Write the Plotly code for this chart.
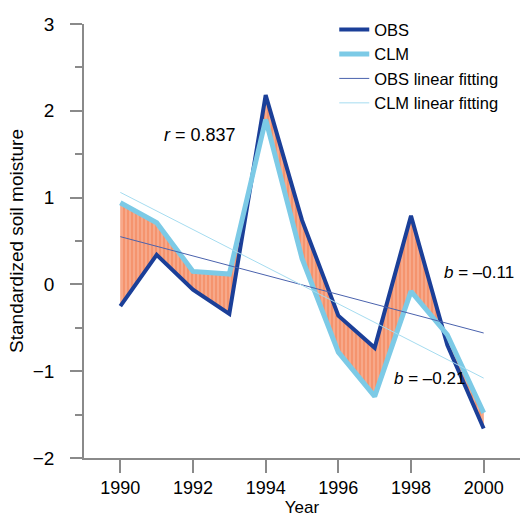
import plotly.graph_objects as go

years = [1990, 1991, 1992, 1993, 1994, 1995, 1996, 1997, 1998, 1999, 2000]
obs = [-0.25, 0.34, -0.06, -0.34, 2.18, 0.74, -0.36, -0.73, 0.79, -0.70, -1.66]
clm = [0.94, 0.71, 0.15, 0.12, 1.90, 0.30, -0.78, -1.29, -0.08, -0.58, -1.48]

fit_years = [1990, 2000]
obs_fit = [0.55, -0.56]
clm_fit = [1.06, -1.08]

x_ticks = [1990, 1992, 1994, 1996, 1998, 2000]
y_ticks = [-2, -1, 0, 1, 2, 3]

OBS_C = "#1b3f98"
CLM_C = "#7ccae6"
OBS_FIT_C = "#4a62ad"
CLM_FIT_C = "#a5dcf0"
FONT = "Liberation Sans, Arial, sans-serif"
AX_C = "#8a8a8a"

fig = go.Figure()

# fill between the two series
fig.add_trace(go.Scatter(x=years, y=clm, mode="lines", line=dict(width=0, color=CLM_C),
                         showlegend=False, hoverinfo="skip"))
fig.add_trace(go.Scatter(x=years, y=obs, mode="lines", line=dict(width=0, color=OBS_C),
                         fill="tonexty", fillcolor="#f5946e",
                         fillpattern=dict(shape="|", bgcolor="#f5946e", fgcolor="#fbd9cc",
                                          size=4, solidity=0.3),
                         showlegend=False, hoverinfo="skip"))

fig.add_trace(go.Scatter(x=years, y=obs, mode="lines", name="OBS",
                         line=dict(color=OBS_C, width=4)))
fig.add_trace(go.Scatter(x=years, y=clm, mode="lines", name="CLM",
                         line=dict(color=CLM_C, width=5)))
fig.add_trace(go.Scatter(x=fit_years, y=obs_fit, mode="lines", name="OBS linear fitting",
                         line=dict(color=OBS_FIT_C, width=1)))
fig.add_trace(go.Scatter(x=fit_years, y=clm_fit, mode="lines", name="CLM linear fitting",
                         line=dict(color=CLM_FIT_C, width=1)))

fig.update_layout(
    width=520, height=518,
    margin=dict(l=84, r=0, t=24, b=60),
    plot_bgcolor="white", paper_bgcolor="white",
    font=dict(family=FONT, size=17, color="black"),
    showlegend=True,
    legend=dict(x=0.574, y=1.027, xanchor="left", yanchor="top", traceorder="normal",
                bgcolor="rgba(0,0,0,0)", font=dict(size=16.5, family=FONT),
                tracegroupgap=0),
    xaxis=dict(range=[1989, 2001], tickvals=x_ticks, showgrid=False, zeroline=False,
               showline=True, linecolor=AX_C, linewidth=1.5,
               ticks="outside", ticklen=13, tickwidth=1.5, tickcolor=AX_C,
               ticklabelstandoff=0,
               tickfont=dict(size=18),
               title=dict(text="Year", font=dict(size=17), standoff=4)),
    yaxis=dict(range=[-2, 3], tickvals=y_ticks, showgrid=False, zeroline=False,
               showline=True, linecolor=AX_C, linewidth=1.5,
               ticks="outside", ticklen=12, tickwidth=1.5, tickcolor=AX_C,
               ticklabelstandoff=12,
               minor=dict(dtick=0.5, ticks="outside", ticklen=7, tickcolor=AX_C, tickwidth=1.5),
               tickfont=dict(size=19),
               title=dict(text="Standardized soil moisture", font=dict(size=19), standoff=4)),
)

fig.add_annotation(x=1992.18, y=1.72, text="<i>r</i> = 0.837", showarrow=False,
                   font=dict(size=18, family=FONT))
fig.add_annotation(x=1999.87, y=0.14, text="<i>b</i> = \u20130.11", showarrow=False,
                   font=dict(size=17, family=FONT))
fig.add_annotation(x=1998.52, y=-1.08, text="<i>b</i> = \u20130.21", showarrow=False,
                   font=dict(size=17, family=FONT))

fig.write_html("out.html")
